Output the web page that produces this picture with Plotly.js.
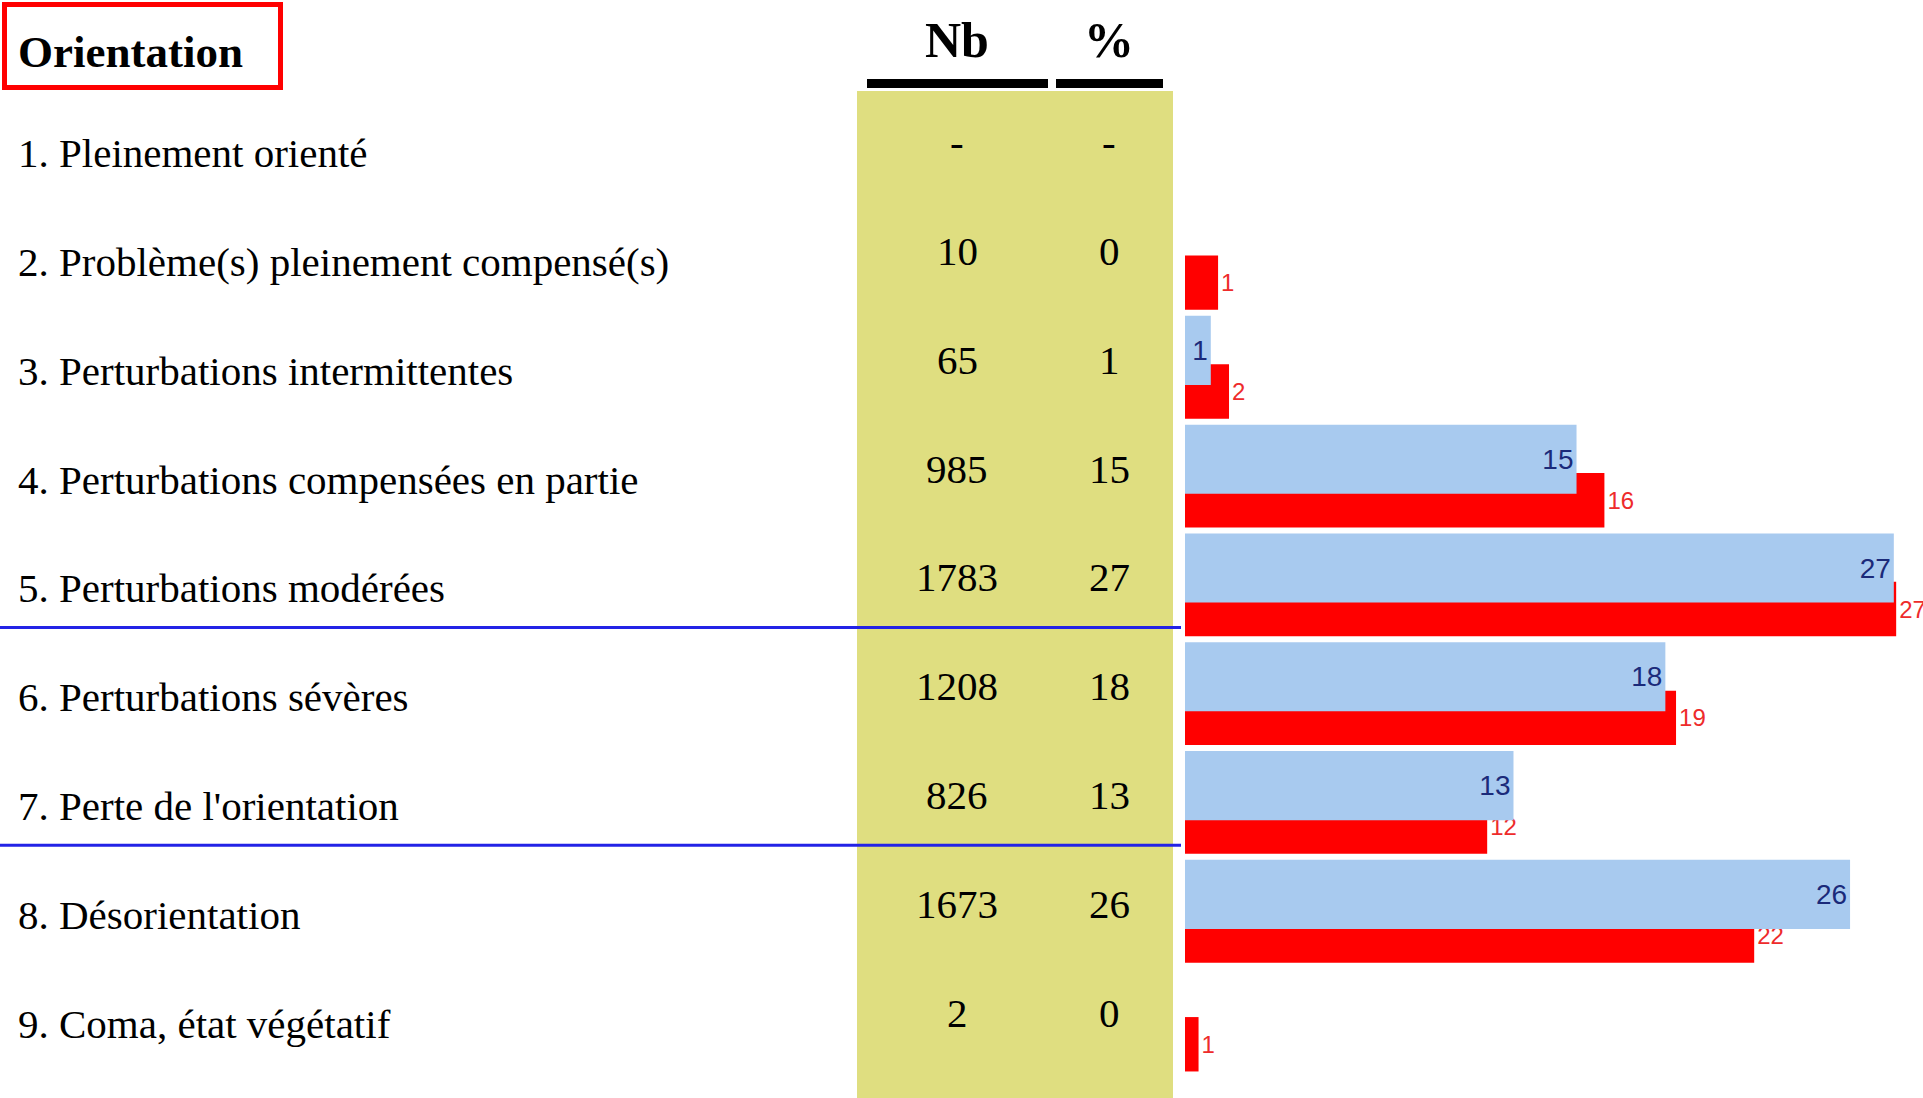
<!DOCTYPE html>
<html>
<head>
<meta charset="utf-8">
<script src="https://cdn.plot.ly/plotly-3.0.1.min.js"></script>
<style>
  html, body { margin: 0; padding: 0; background: #ffffff; }
  #chart { width: 1923px; height: 1098px; }
</style>
</head>
<body>
<div id="chart"></div>
<script>
// ---------- data ----------
const rowLabels = [
  '1. Pleinement orienté',
  '2. Problème(s) pleinement compensé(s)',
  '3. Perturbations intermittentes',
  '4. Perturbations compensées en partie',
  '5. Perturbations modérées',
  '6. Perturbations sévères',
  "7. Perte de l'orientation",
  '8. Désorientation',
  '9. Coma, état végétatif'
];
const rowIndex = [1, 2, 3, 4, 5, 6, 7, 8, 9];
const nbValues = ['-', '10', '65', '985', '1783', '1208', '826', '1673', '2'];
const pctValues = ['-', '0', '1', '15', '27', '18', '13', '26', '0'];
// bar series (percent)
const bluePct = [null, null, 0.99, 15.03, 27.21, 18.44, 12.61, 25.53, null];
const redPct = [null, 1.27, 1.69, 16.1, 27.3, 18.85, 11.6, 21.85, 0.52];
const headerTitle = 'Orientation';
const headerNb = 'Nb';
const headerPct = '%';

// ---------- layout helpers ----------
const W = 1923, H = 1098;
const px = x => x / W;
const py = y => 1 - y / H;
const rowPitch = 108.8;       // pixels per row
const firstRowY = 153.2;      // pixel centre of row 1
const barZeroX = 1185;        // pixel of 0 %
const pxPerUnit = 26.05;      // pixels per percent

const yRange = [1 + (H - firstRowY) / rowPitch, 1 - firstRowY / rowPitch];
const xRange = [-barZeroX / pxPerUnit, (W - barZeroX) / pxPerUnit];

const serif = 'Liberation Serif, Times New Roman, serif';
const narrow = 'Liberation Sans Narrow, Arial Narrow, Liberation Sans, sans-serif';

const redTrace = {
  type: 'bar',
  orientation: 'h',
  x: redPct,
  y: rowIndex,
  width: 0.5,
  offset: -0.06,
  marker: { color: '#ff0000', line: { width: 0 } },
  texttemplate: '%{x:.0f}',
  textposition: 'outside',
  outsidetextfont: { family: narrow, size: 24, color: '#ee2b2b' },
  constraintext: 'none',
  cliponaxis: false,
  hoverinfo: 'skip'
};

const blueTrace = {
  type: 'bar',
  orientation: 'h',
  x: bluePct,
  y: rowIndex,
  width: 0.635,
  offset: -0.505,
  marker: { color: '#a8caef', line: { width: 0 } },
  texttemplate: '%{x:.0f}',
  textposition: 'inside',
  insidetextanchor: 'end',
  insidetextfont: { family: narrow, size: 28, color: '#1b2a7a' },
  constraintext: 'none',
  cliponaxis: false,
  hoverinfo: 'skip'
};

const shapes = [
  // yellow column
  { type: 'rect', xref: 'paper', yref: 'paper', x0: px(857), x1: px(1173), y0: py(91), y1: py(H),
    fillcolor: '#dfde80', line: { width: 0 }, layer: 'below' },
  // header underlines
  { type: 'rect', xref: 'paper', yref: 'paper', x0: px(867), x1: px(1048), y0: py(79), y1: py(88),
    fillcolor: '#000000', line: { width: 0 } },
  { type: 'rect', xref: 'paper', yref: 'paper', x0: px(1056), x1: px(1163), y0: py(79), y1: py(88),
    fillcolor: '#000000', line: { width: 0 } },
  // red title box
  { type: 'rect', xref: 'paper', yref: 'paper', x0: px(4.5), x1: px(280.5), y0: py(4.5), y1: py(87.5),
    fillcolor: 'rgba(0,0,0,0)', line: { color: '#ff0000', width: 5 } },
  // blue separators
  { type: 'line', xref: 'paper', yref: 'y', x0: 0, x1: px(1181), y0: 5.36, y1: 5.36,
    line: { color: '#2323e6', width: 3 } },
  { type: 'line', xref: 'paper', yref: 'y', x0: 0, x1: px(1181), y0: 7.36, y1: 7.36,
    line: { color: '#2323e6', width: 3 } }
];

const annotations = [];
annotations.push({ text: headerTitle, xref: 'paper', yref: 'paper', x: px(16), y: py(52),
  xanchor: 'left', yanchor: 'middle', showarrow: false,
  font: { family: serif, size: 45, color: '#000000', weight: 'bold' } });
annotations.push({ text: headerNb, xref: 'paper', yref: 'paper', x: px(957), y: py(40),
  xanchor: 'center', yanchor: 'middle', showarrow: false,
  font: { family: serif, size: 50, color: '#000000', weight: 'bold' } });
annotations.push({ text: headerPct, xref: 'paper', yref: 'paper', x: px(1109), y: py(40),
  xanchor: 'center', yanchor: 'middle', showarrow: false,
  font: { family: serif, size: 50, color: '#000000', weight: 'bold' } });

rowLabels.forEach((lab, k) => {
  annotations.push({ text: lab, xref: 'paper', yref: 'y', x: px(16), y: rowIndex[k],
    xanchor: 'left', yanchor: 'middle', showarrow: false,
    font: { family: serif, size: 41, color: '#000000' } });
  annotations.push({ text: nbValues[k], xref: 'paper', yref: 'y', x: px(957), y: rowIndex[k],
    yshift: 11, xanchor: 'center', yanchor: 'middle', showarrow: false,
    font: { family: serif, size: 41, color: '#000000' } });
  annotations.push({ text: pctValues[k], xref: 'paper', yref: 'y', x: px(1109), y: rowIndex[k],
    yshift: 11, xanchor: 'center', yanchor: 'middle', showarrow: false,
    font: { family: serif, size: 41, color: '#000000' } });
});

const layout = {
  width: W,
  height: H,
  margin: { l: 0, r: 0, t: 0, b: 0, pad: 0 },
  paper_bgcolor: '#ffffff',
  plot_bgcolor: 'rgba(0,0,0,0)',
  barmode: 'overlay',
  showlegend: false,
  xaxis: { range: xRange, visible: false, fixedrange: true },
  yaxis: { range: yRange, visible: false, fixedrange: true },
  shapes: shapes,
  annotations: annotations
};

Plotly.newPlot('chart', [redTrace, blueTrace], layout, { displayModeBar: false, staticPlot: true });
</script>
</body>
</html>
